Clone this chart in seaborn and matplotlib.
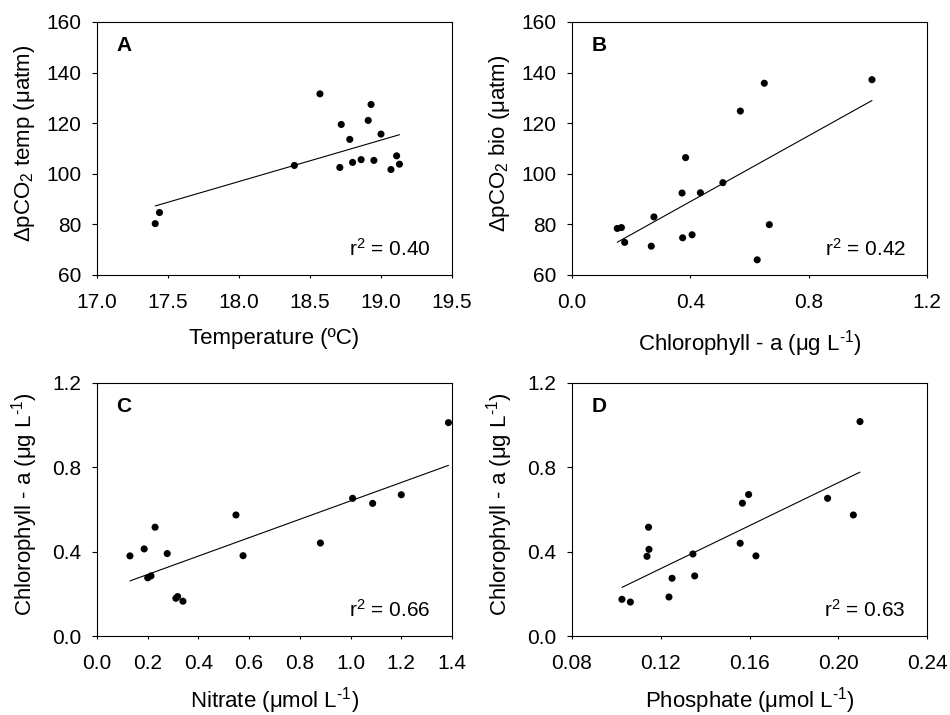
import numpy as np
import pandas as pd
import matplotlib
matplotlib.use("Agg")
import matplotlib.pyplot as plt
import seaborn as sns

# ---- Data ----
temp_x = [17.41, 17.44, 18.39, 18.57, 18.72, 18.71, 18.78, 18.80, 18.86, 18.91,
          18.93, 18.95, 19.00, 19.07, 19.11, 19.13]
temp_y = [80.3, 84.7, 103.3, 131.6, 119.5, 102.5, 113.6, 104.5, 105.6, 121.1,
          127.4, 105.3, 115.7, 101.7, 107.1, 103.8]

chlB_x = [0.153, 0.167, 0.178, 0.277, 0.268, 0.372, 0.384, 0.374, 0.406, 0.434,
          0.510, 0.569, 0.650, 0.626, 0.667, 1.014]
bio_y = [78.4, 78.75, 72.9, 82.95, 71.4, 92.4, 106.4, 74.7, 75.9, 92.5,
         96.5, 124.8, 135.8, 66.0, 79.9, 137.2]

nitrate_x = [0.130, 0.186, 0.229, 0.200, 0.213, 0.277, 0.311, 0.318, 0.339, 0.548,
             0.576, 0.881, 1.008, 1.087, 1.200, 1.386]
chlC_y = [0.380, 0.413, 0.516, 0.276, 0.285, 0.391, 0.179, 0.187, 0.165, 0.574,
          0.381, 0.441, 0.653, 0.629, 0.670, 1.012]

phosphate_x = [0.1025, 0.1063, 0.1145, 0.1147, 0.1138, 0.1237, 0.1251, 0.1345, 0.1353,
               0.1558, 0.1568, 0.1596, 0.1629, 0.1952, 0.2068, 0.2098]
chlD_y = [0.174, 0.161, 0.516, 0.411, 0.378, 0.185, 0.274, 0.389, 0.285,
          0.440, 0.630, 0.671, 0.380, 0.653, 0.574, 1.017]

panel_letters = ["A", "B", "C", "D"]
r2_labels = ["0.40", "0.42", "0.66", "0.63"]

xticks_A = [17.0, 17.5, 18.0, 18.5, 19.0, 19.5]
yticks_AB = [60, 80, 100, 120, 140, 160]
xticks_B = [0.0, 0.4, 0.8, 1.2]
xticks_C = [0.0, 0.2, 0.4, 0.6, 0.8, 1.0, 1.2, 1.4]
xticks_D = [0.08, 0.12, 0.16, 0.20, 0.24]
yticks_CD = [0.0, 0.4, 0.8, 1.2]

# ---- Style ----
sns.set_theme(style="ticks")
plt.rcParams["font.family"] = ["Liberation Sans", "DejaVu Sans"]
plt.rcParams["mathtext.fontset"] = "custom"
plt.rcParams["mathtext.rm"] = "Liberation Sans"
plt.rcParams["mathtext.it"] = "Liberation Sans:italic"
plt.rcParams["mathtext.bf"] = "Liberation Sans:bold"
plt.rcParams["mathtext.sf"] = "Liberation Sans"
plt.rcParams["mathtext.default"] = "regular"

fig = plt.figure(figsize=(9.5, 7.15), dpi=100)
W, H = 950, 715

def make_ax(left, top, width=355, height=253):
    return fig.add_axes([left / W, (H - top - height) / H, width / W, height / H])

axA = make_ax(97, 22)
axB = make_ax(572, 22)
axC = make_ax(97, 383)
axD = make_ax(572, 383)

dfA = pd.DataFrame({"x": temp_x, "y": temp_y})
dfB = pd.DataFrame({"x": chlB_x, "y": bio_y})
dfC = pd.DataFrame({"x": nitrate_x, "y": chlC_y})
dfD = pd.DataFrame({"x": phosphate_x, "y": chlD_y})

inv = "$^{\\text{-}1}$"
panels = [
    (axA, dfA, xticks_A, yticks_AB, "%.1f", "%d",
     "Temperature (ºC)", "ΔpCO$_2$ temp (μatm)", 11.5),
    (axB, dfB, xticks_B, yticks_AB, "%.1f", "%d",
     "Chlorophyll - a (μg L" + inv + ")", "ΔpCO$_2$ bio (μatm)", 11.5),
    (axC, dfC, xticks_C, yticks_CD, "%.1f", "%.1f",
     "Nitrate (μmol L" + inv + ")", "Chlorophyll - a (μg L" + inv + ")", 9.0),
    (axD, dfD, xticks_D, yticks_CD, "%.2f", "%.1f",
     "Phosphate (μmol L" + inv + ")", "Chlorophyll - a (μg L" + inv + ")", 9.0),
]

for i, (ax, df, xt, yt, xf, yf, xl, yl, lp) in enumerate(panels):
    sns.regplot(data=df, x="x", y="y", ax=ax, ci=None, truncate=True,
                scatter_kws=dict(s=26, color="black", edgecolor="none", alpha=1, zorder=3),
                line_kws=dict(color="black", lw=0.8))
    ax.set_xlim(xt[0], xt[-1])
    ax.set_ylim(yt[0], yt[-1])
    ax.set_xticks(xt)
    ax.set_yticks(yt)
    ax.set_xticklabels([xf % v for v in xt])
    ax.set_yticklabels([yf % v for v in yt])
    ax.tick_params(axis="both", direction="out", width=0.8,
                   labelsize=15, colors="black")
    ax.tick_params(axis="x", pad=10.5, length=2.5)
    ax.tick_params(axis="y", pad=7.5, length=3.6)
    for sp in ax.spines.values():
        sp.set_visible(True)
        sp.set_color("black")
        sp.set_linewidth(0.8)
    ax.set_xlabel(xl, fontsize=16, color="black", labelpad=lp)
    ax.set_ylabel(yl, fontsize=16, color="black")
    ax.yaxis.label.set_va("center")
    ax.yaxis.set_label_coords(-0.203, 0.52)
    ax.text(0.055, 0.945, panel_letters[i], transform=ax.transAxes,
            fontsize=15, fontweight="bold", ha="left", va="top", color="black")
    ax.text(0.94, 0.076, "r$^2$ = " + r2_labels[i], transform=ax.transAxes,
            fontsize=15, ha="right", va="baseline", color="black")

fig.savefig("out.png", dpi=100)
